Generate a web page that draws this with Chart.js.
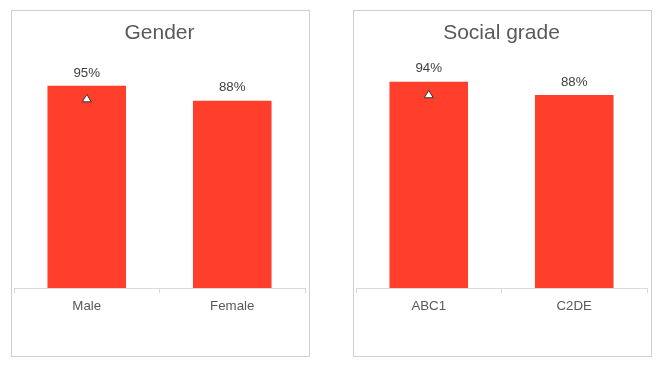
<!DOCTYPE html>
<html>
<head>
<meta charset="utf-8">
<script src="https://cdn.jsdelivr.net/npm/chart.js@4"></script>
<style>
  body { margin: 0; background: #fff; }
  .panel { position: absolute; top: 10px; width: 297px; height: 345px; border: 1px solid #cfcfcf; }
  #p1 { left: 11px; }
  #p2 { left: 353px; }
</style>
</head>
<body>
<div class="panel" id="p1"><canvas id="c1" width="297" height="345"></canvas></div>
<div class="panel" id="p2"><canvas id="c2" width="297" height="345"></canvas></div>
<script>
// data
const genderLabels = ['Male', 'Female'];
const genderValues = [95, 88];
const genderSig = [true, false];   // white triangle = significant difference

const gradeLabels = ['ABC1', 'C2DE'];
const gradeValues = [94, 88];
const gradeSig = [true, false];

const barColor = '#ff3f2b';
const fontFamily = '"Liberation Sans", Arial, sans-serif';

// draws value labels above bars and the significance triangles
const labelPlugin = {
    id: 'barLabels',
    afterDatasetsDraw(chart, args, opts) {
        const ctx = chart.ctx;
        const meta = chart.getDatasetMeta(0);
        const values = chart.data.datasets[0].data;
        ctx.save();
        meta.data.forEach(function (bar, i) {
            ctx.fillStyle = '#404040';
            ctx.font = '13.3px ' + fontFamily;
            ctx.textAlign = 'center';
            ctx.textBaseline = 'middle';
            ctx.fillText(values[i] + '%', bar.x, bar.y - 13);
            if (opts.sig[i]) {
                const cx = bar.x, cy = bar.y + 12.5;
                ctx.beginPath();
                ctx.moveTo(cx, cy - 4);
                ctx.lineTo(cx + 4.5, cy + 3.5);
                ctx.lineTo(cx - 4.5, cy + 3.5);
                ctx.closePath();
                ctx.fillStyle = '#ffffff';
                ctx.fill();
                ctx.strokeStyle = '#333333';
                ctx.lineWidth = 1;
                ctx.stroke();
            }
        });
        ctx.restore();
    }
};

function makeChart(id, title, labels, values, sig, yMax) {
    const ctx = document.getElementById(id).getContext('2d');
    return new Chart(ctx, {
        type: 'bar',
        data: {
            labels: labels,
            datasets: [{
                data: values,
                backgroundColor: barColor,
                borderWidth: 0,
                barPercentage: 0.54,
                categoryPercentage: 1.0
            }]
        },
        plugins: [labelPlugin],
        options: {
            responsive: false,
            animation: false,
            layout: { padding: { left: 2, right: 4, top: 0, bottom: 37 } },
            plugins: {
                legend: { display: false },
                tooltip: { enabled: false },
                title: {
                    display: true,
                    text: title,
                    color: '#595959',
                    font: { family: fontFamily, size: 21, weight: 'normal' },
                    padding: { top: 10, bottom: 29 }
                },
                barLabels: { sig: sig }
            },
            scales: {
                y: { display: false, min: 0, max: yMax },
                x: {
                    grid: {
                        display: true,
                        drawOnChartArea: false,
                        drawTicks: true,
                        tickLength: 5,
                        color: '#d9d9d9'
                    },
                    border: { color: '#d9d9d9' },
                    ticks: {
                        color: '#595959',
                        padding: 5,
                        font: { family: fontFamily, size: 13.3 }
                    }
                }
            }
        }
    });
}

makeChart('c1', 'Gender', genderLabels, genderValues, genderSig, 100);
makeChart('c2', 'Social grade', gradeLabels, gradeValues, gradeSig, 97);
</script>
</body>
</html>
